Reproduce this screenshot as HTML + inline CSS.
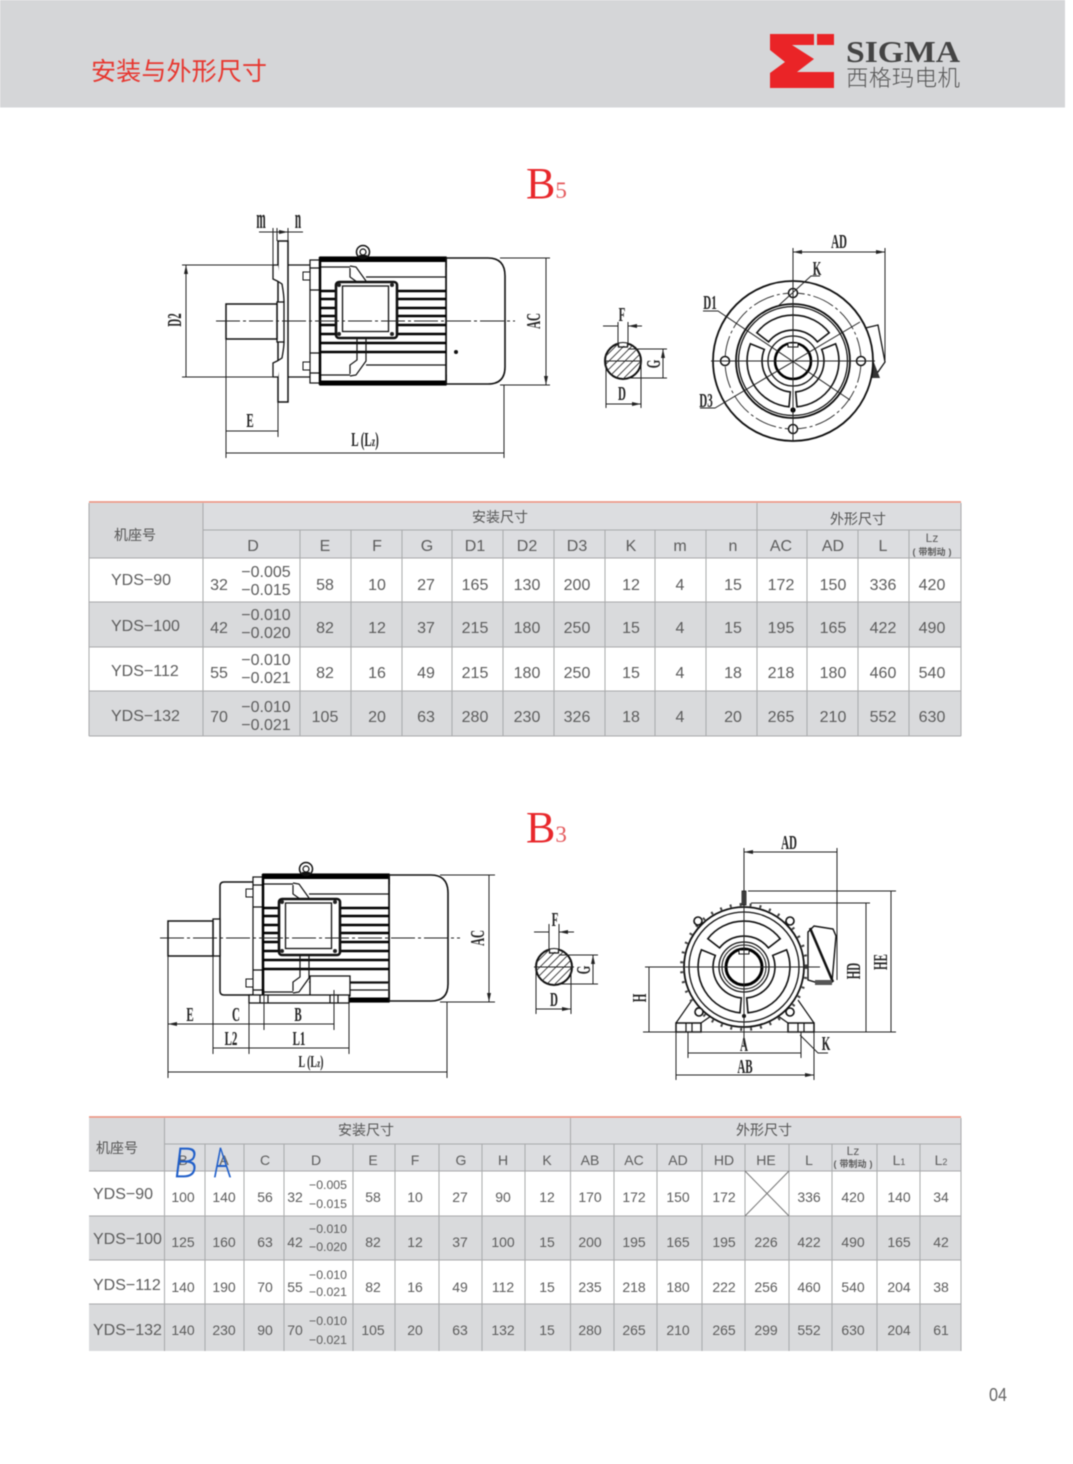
<!DOCTYPE html>
<html><head><meta charset="utf-8"><title>安装与外形尺寸</title>
<style>
html,body{margin:0;padding:0;background:#fff;width:1073px;height:1464px;overflow:hidden}
svg{display:block;filter:blur(.45px)}
text{font-family:"Liberation Sans","Noto Sans CJK SC",sans-serif}
.c{text-anchor:middle;fill:#5c5c5c}
.n{font-size:16px}.s{font-size:14px}.o{font-size:12.3px}
.h{font-size:14px;fill:#555;text-anchor:middle}
.t{font-family:"Liberation Serif",serif;font-weight:bold;font-size:20px;fill:#222;text-anchor:middle}
.d{fill:none;stroke:#222;stroke-width:1}
.dm{fill:none;stroke:#222;stroke-width:1;marker-start:url(#ar);marker-end:url(#ar)}
.l{fill:none;stroke:#111;stroke-width:1.2}
.m{fill:none;stroke:#111;stroke-width:1.8}
.b{stroke:#000;fill:none}
.cl{stroke:#222;stroke-width:.9;stroke-dasharray:24 3 3 3;fill:none}
.g{stroke:#a8a9ab;stroke-width:1;fill:none}
.hw{font-family:"Noto Sans CJK SC",sans-serif;font-weight:100;font-size:40px;fill:#1f5ec9;stroke:#1f5ec9;stroke-width:.7}
</style></head><body>
<svg xmlns="http://www.w3.org/2000/svg" width="1073" height="1464" viewBox="0 0 1073 1464">
<defs>
<marker id="ar" viewBox="0 0 9 4" refX="9" refY="2" markerWidth="9" markerHeight="4" markerUnits="userSpaceOnUse" orient="auto-start-reverse"><path d="M0 0L9 2L0 4Z" fill="#222"/></marker>
<clipPath id="kc"><circle cx="0" cy="0" r="18"/></clipPath>
<g id="key">
<circle r="18" fill="#fff" stroke="#111" stroke-width="2"/>
<g clip-path="url(#kc)" stroke="#333" stroke-width=".9">
<path d="M-24 -6L-6 -24M-24 2L2 -24M-24 10L10 -24M-24 18L18 -24M-24 26L26 -24M-16 26L26 -16M-8 26L26 -8M0 26L26 0M8 26L26 8"/>
<rect x="-4.5" y="-20" width="9" height="5" fill="#fff" stroke="none"/>
</g>
<path d="M-4.5 -18V-14H4.5V-18" class="l"/>
</g>
<g id="pock" class="l" stroke-width="1.5">
<path d="M756.8 332.7A46 46 0 0 1 829.2 332.7L817.4 341.9A31 31 0 0 0 768.6 341.9Z" fill="#fff" stroke="#111" stroke-width="1.6"/>
<path d="M835.6 343.8A46 46 0 0 1 797 406.8L795.7 391.9A31 31 0 0 0 821.7 349.4Z" fill="#fff" stroke="#111" stroke-width="1.6"/>
<path d="M750.4 343.8A46 46 0 0 0 789 406.8L790.3 391.9A31 31 0 0 1 764.3 349.4Z" fill="#fff" stroke="#111" stroke-width="1.6"/>
</g>
<g id="motor">
<path d="M446 258H488Q505 258 505 276V367Q505 384 488 384H446Z" fill="#fff" stroke="#111" stroke-width="1.6"/>
<path d="M442 257H447V268ZM442 385H447V374Z" fill="#111"/>
<rect x="310" y="260" width="10" height="123" fill="#fff" stroke="#111" stroke-width="1.2"/>
<path d="M310 268H320M310 290H320M310 353H320M310 373H320" class="l"/>
<rect x="303" y="272" width="7" height="8" fill="#fff" stroke="#111"/>
<rect x="303" y="362" width="7" height="8" fill="#fff" stroke="#111"/>
<rect x="320" y="257" width="126" height="128" fill="#fff" stroke="#111" stroke-width="1.2"/>
<path d="M320 259.5H446M320 383H446" stroke="#000" stroke-width="5" fill="none"/>
<path d="M320 257V385" stroke="#000" stroke-width="2.5"/>
<path d="M446 258V384" stroke="#111" stroke-width="1.6"/>
<path d="M321 267H350M321 375H350M366 277H446M366 365H446" class="l"/>
<path d="M321 291H446M321 299H446M321 308H446M321 316H446M321 325H446M321 334H446M321 343H446M321 352H446" stroke="#000" stroke-width="2.4" fill="none"/>
<path d="M350 266L356 267L366 281M350 268V277L357 282M350 376L356 375L366 361V338M350 374V365L357 360V338" class="l" stroke-width="1.4"/>
<rect x="336" y="282" width="61" height="56" rx="3" fill="#fff" stroke="#111" stroke-width="2.6"/>
<rect x="342.500" y="286" width="46" height="45.500" fill="#fff" stroke="#111" stroke-width="1.3"/>
<circle cx="339" cy="285" r="2" fill="#222"/><circle cx="392" cy="285" r="2" fill="#222"/><circle cx="339" cy="334" r="2" fill="#222"/><circle cx="392" cy="334" r="2" fill="#222"/>
<circle cx="363" cy="252" r="6.500" fill="#fff" stroke="#111" stroke-width="1.500"/>
<circle cx="363" cy="252" r="3" fill="#fff" stroke="#111" stroke-width="1.200"/>
<rect x="359" y="255" width="8" height="3" fill="#111"/>
</g>
</defs>

<rect x="0" y="0" width="1073" height="1464" fill="#fff"/>
<rect x="0" y="0" width="1065" height="107.500" fill="#d5d6d8"/>
<text x="91" y="80" font-size="25" textLength="176" fill="#e7372f">安装与外形尺寸</text>
<path d="M770 34H814V45H792L814 59L797 72H834V88H770V73L785 62L770 50Z" fill="#ea2427"/>
<rect x="817" y="34" width="17" height="11" fill="#ea2427"/>
<text x="846" y="62" textLength="114" lengthAdjust="spacingAndGlyphs" style="font-family:'Liberation Serif',serif;font-weight:bold;font-size:31px" fill="#444">SIGMA</text>
<text x="846" y="86" textLength="114" style="font-family:'Noto Sans CJK SC',sans-serif;font-weight:300;font-size:22.500px" fill="#555">西格玛电机</text>

<text x="526" y="198" style="font-family:'Liberation Serif',serif;font-size:44px" fill="#e8282c">B<tspan font-size="23" fill="#e4595c">5</tspan></text>
<text x="526" y="842" style="font-family:'Liberation Serif',serif;font-size:44px" fill="#e8282c">B<tspan font-size="23" fill="#e4595c">3</tspan></text>

<!-- B5 side view -->
<path d="M288 265H310M288 377H310" class="l"/>
<rect x="278" y="241" width="10" height="161" fill="#fff" stroke="#111" stroke-width="1.500"/>
<path d="M278 265H273V279Q278 281 282 284Q284 295 284 302M278 377H273V363Q278 361 282 358Q284 347 284 342" fill="#fff" stroke="#111" stroke-width="1.300"/>
<rect x="277" y="302" width="7" height="40" fill="#fff" stroke="#111" stroke-width="1.300"/>
<rect x="226" y="304" width="51" height="35" fill="#fff" stroke="#111" stroke-width="1.500"/>
<use href="#motor"/>
<circle cx="456" cy="352" r="2" fill="#111"/>
<path d="M216 321H515" class="cl"/>
<path d="M182 265H273M182 377H273M273 228V265M277 228V241M288 228V241M226 339V458M278 402V437M504 385V458M500 258H550M500 385H550" class="d"/>
<path d="M186 265V377M226 431H278M226 453H504M546 258V385" class="dm"/>
<path d="M259 232H273M303 232H288M273 232H288" class="d" marker-end="url(#ar)"/>
<text class="t" style="font-size:28px" transform="translate(261 228) scale(.4 1)">m</text>
<text class="t" style="font-size:28px" transform="translate(298 228) scale(.4 1)">n</text>
<text class="t" transform="translate(250 427) scale(.55 1)">E</text>
<text class="t" transform="translate(365 446) scale(.55 1)">L (L<tspan font-size="14">z</tspan>)</text>
<text class="t" transform="translate(181 320) rotate(-90) scale(.55 1)">D2</text>
<text class="t" transform="translate(540 321) rotate(-90) scale(.55 1)">AC</text>

<!-- B5 key section -->
<use href="#key" x="623" y="361"/>
<path d="M604 361H642M618 322V346M628 322V346M628 349H667M628 378H667M606 361V408M641 361V408" class="d"/>
<path d="M603 326H618M642 326H628" class="d" marker-end="url(#ar)"/>
<path d="M663 349V378M606 404H641" class="dm"/>
<text class="t" transform="translate(622 321) scale(.55 1)">F</text>
<text class="t" transform="translate(660 364) rotate(-90) scale(.55 1)">G</text>
<text class="t" transform="translate(622 400) scale(.55 1)">D</text>

<!-- B5 end view -->
<path d="M857 330L878 325L885 362L878 372L866 368Z" fill="#fff" stroke="#111" stroke-width="1.300"/>
<path d="M873 360L880 378L871 378Z" fill="#333"/>
<circle cx="793" cy="361" r="80" fill="#fff" stroke="#111" stroke-width="1.800"/>
<circle cx="793" cy="361" r="68" fill="none" stroke="#222" stroke-width=".9" stroke-dasharray="22 3 3 3"/>
<circle cx="793" cy="361" r="57" fill="#fff" stroke="#111" stroke-width="1.800"/>
<circle cx="793" cy="361" r="54.500" fill="#fff" stroke="#111" stroke-width="1.300"/>
<use href="#pock"/>
<circle cx="793" cy="361" r="25" fill="#fff" stroke="#111" stroke-width="1.300"/>
<circle cx="793" cy="361" r="18" fill="#fff" stroke="#000" stroke-width="2.600"/>
<rect x="788" y="343" width="10" height="4" fill="#fff" stroke="#111"/>
<circle cx="793" cy="410" r="2.600" fill="#000"/>
<circle cx="793" cy="293" r="4.500" fill="#fff" stroke="#111" stroke-width="1.500"/><circle cx="793" cy="429" r="4.500" fill="#fff" stroke="#111" stroke-width="1.500"/><circle cx="725" cy="361" r="4.500" fill="#fff" stroke="#111" stroke-width="1.500"/><circle cx="861" cy="361" r="4.500" fill="#fff" stroke="#111" stroke-width="1.500"/>
<path d="M793 248V441M711 361H875M885 248V360M703 311H718L850 400M700 408H715L860 322M820 276H811L777 307" class="d"/>
<path d="M793 252H885" class="dm"/>
<text class="t" transform="translate(839 248) scale(.55 1)">AD</text>
<text class="t" transform="translate(817 275) scale(.55 1)">K</text>
<text class="t" transform="translate(710 309) scale(.55 1)">D1</text>
<text class="t" transform="translate(706 407) scale(.55 1)">D3</text>

<!-- Table 1 -->
<rect x="89" y="503" width="872" height="55" fill="#dcdde0"/>
<rect x="89" y="503" width="114" height="55" fill="#d7d8da"/>
<rect x="89" y="558" width="872" height="44" fill="#fff"/>
<rect x="89" y="602" width="872" height="45" fill="#d9dadc"/>
<rect x="89" y="647" width="872" height="44" fill="#fff"/>
<rect x="89" y="691" width="872" height="45" fill="#d9dadc"/>
<path d="M89 502H961" stroke="#e88a78" stroke-width="1.500"/>
<path d="M203 530H961M89 558H961M89 602H961M89 647H961M89 691H961M89 736H961M89 503V736M961 503V736" class="g"/>
<path d="M203 503V736M757 503V736M300 530V736M351 530V736M402 530V736M452 530V736M503 530V736M554 530V736M605 530V736M655 530V736M706 530V736M807 530V736M858 530V736M909 530V736" class="g"/>
<text class="h" x="135" y="540">机座号</text>
<text class="h" x="500" y="522">安装尺寸</text>
<text class="h" x="858" y="524">外形尺寸</text>
<text class="c n" y="551"><tspan x="253">D</tspan><tspan x="325">E</tspan><tspan x="377">F</tspan><tspan x="427">G</tspan><tspan x="475">D1</tspan><tspan x="527">D2</tspan><tspan x="577">D3</tspan><tspan x="631">K</tspan><tspan x="680">m</tspan><tspan x="733">n</tspan><tspan x="781">AC</tspan><tspan x="833">AD</tspan><tspan x="883">L</tspan></text>
<text class="c" font-size="12" x="932" y="542">Lz</text>
<text class="c" font-size="9" font-weight="bold" y="555"><tspan x="914">(</tspan><tspan x="932">带制动</tspan><tspan x="950">)</tspan></text>
<text x="111" y="585" fill="#5c5c5c" font-size="16">YDS−90</text>
<text x="111" y="631" fill="#5c5c5c" font-size="16">YDS−100</text>
<text x="111" y="676" fill="#5c5c5c" font-size="16">YDS−112</text>
<text x="111" y="721" fill="#5c5c5c" font-size="16">YDS−132</text>
<text class="c n" y="590"><tspan x="219">32</tspan><tspan x="325">58</tspan><tspan x="377">10</tspan><tspan x="426">27</tspan><tspan x="475">165</tspan><tspan x="527">130</tspan><tspan x="577">200</tspan><tspan x="631">12</tspan><tspan x="680">4</tspan><tspan x="733">15</tspan><tspan x="781">172</tspan><tspan x="833">150</tspan><tspan x="883">336</tspan><tspan x="932">420</tspan></text>
<text class="c n" y="633"><tspan x="219">42</tspan><tspan x="325">82</tspan><tspan x="377">12</tspan><tspan x="426">37</tspan><tspan x="475">215</tspan><tspan x="527">180</tspan><tspan x="577">250</tspan><tspan x="631">15</tspan><tspan x="680">4</tspan><tspan x="733">15</tspan><tspan x="781">195</tspan><tspan x="833">165</tspan><tspan x="883">422</tspan><tspan x="932">490</tspan></text>
<text class="c n" y="678"><tspan x="219">55</tspan><tspan x="325">82</tspan><tspan x="377">16</tspan><tspan x="426">49</tspan><tspan x="475">215</tspan><tspan x="527">180</tspan><tspan x="577">250</tspan><tspan x="631">15</tspan><tspan x="680">4</tspan><tspan x="733">18</tspan><tspan x="781">218</tspan><tspan x="833">180</tspan><tspan x="883">460</tspan><tspan x="932">540</tspan></text>
<text class="c n" y="722"><tspan x="219">70</tspan><tspan x="325">105</tspan><tspan x="377">20</tspan><tspan x="426">63</tspan><tspan x="475">280</tspan><tspan x="527">230</tspan><tspan x="577">326</tspan><tspan x="631">18</tspan><tspan x="680">4</tspan><tspan x="733">20</tspan><tspan x="781">265</tspan><tspan x="833">210</tspan><tspan x="883">552</tspan><tspan x="932">630</tspan></text>
<text class="c n" x="266" y="577">−0.005</text><text class="c n" x="266" y="595">−0.015</text>
<text class="c n" x="266" y="620">−0.010</text><text class="c n" x="266" y="638">−0.020</text>
<text class="c n" x="266" y="665">−0.010</text><text class="c n" x="266" y="683">−0.021</text>
<text class="c n" x="266" y="712">−0.010</text><text class="c n" x="266" y="730">−0.021</text>

<!-- B3 side view -->
<path d="M253 882H224Q220 882 220 886V991Q220 995 224 995H253" fill="#fff" stroke="#111" stroke-width="1.500"/>
<use href="#motor" transform="translate(-57 617)"/>
<rect x="213" y="919" width="7" height="37" fill="#fff" stroke="#111" stroke-width="1.300"/>
<rect x="168" y="921" width="45" height="35" fill="#fff" stroke="#111" stroke-width="1.500"/>
<rect x="310" y="976" width="40" height="20" fill="#fff" stroke="#111" stroke-width="1.300"/>
<path d="M350 983H388M350 990H388" class="l"/>
<rect x="249" y="995" width="100" height="8" fill="#fff" stroke="#111" stroke-width="1.300"/>
<path d="M260 995V1003M268 995V1003M330 995V1003M338 995V1003" class="l"/>
<path d="M160 938H460" class="cl"/>
<path d="M168 956V1078M213 1003V1054M249 1003V1054M264 990V1030M334 990V1030M349 1003V1054M447 1002V1078M440 875H495M440 1002H495M213 956V1003" class="d"/>
<path d="M168 1024H213M213 1024H250M264 1024H334M213 1048H249M249 1048H349M168 1072H447M489 875V1002" class="dm"/>
<path d="M250 1024H264" class="d"/>
<text class="t" transform="translate(190 1021) scale(.55 1)">E</text>
<text class="t" transform="translate(236 1021) scale(.55 1)">C</text>
<text class="t" transform="translate(298 1021) scale(.55 1)">B</text>
<text class="t" transform="translate(231 1045) scale(.55 1)">L2</text>
<text class="t" transform="translate(299 1045) scale(.55 1)">L1</text>
<text class="t" transform="translate(311 1067) scale(.5 .85)">L (L<tspan font-size="14">z</tspan>)</text>
<text class="t" transform="translate(484 938) rotate(-90) scale(.55 1)">AC</text>

<!-- B3 key section -->
<use href="#key" x="554" y="967"/>
<path d="M534 967H574M549 924V950M559 924V950M559 955H598M559 984H598M536 967V1014M571 967V1014" class="d"/>
<path d="M534 932H549M574 932H559" class="d" marker-end="url(#ar)"/>
<path d="M593 955V984M536 1009H571" class="dm"/>
<text class="t" transform="translate(555 926) scale(.55 1)">F</text>
<text class="t" transform="translate(590 970) rotate(-90) scale(.55 1)">G</text>
<text class="t" transform="translate(554 1006) scale(.55 1)">D</text>

<!-- B3 end view -->
<path d="M808 932L814 926L833 929L836 936L832 982L815 982L808 980Z" fill="#fff" stroke="#111" stroke-width="1.400"/>
<path d="M810 928L833 982" stroke="#111" stroke-width="2.500"/>
<path d="M815 980H832V985H815Z" fill="#555"/>
<path d="M676 1023L692 1000M701 1023L711 1016M814 1023L798 1000M788 1023L778 1016" class="l" stroke-width="1.500"/>
<circle cx="744" cy="967" r="62.500" fill="none" stroke="#444" stroke-width="3" stroke-dasharray="2 8"/>
<circle cx="744" cy="967" r="60" fill="#fff" stroke="#111" stroke-width="1.800"/>
<circle cx="744" cy="967" r="55" fill="none" stroke="#111" stroke-width="1.300"/>
<rect x="676" y="1023" width="25" height="9" fill="#fff" stroke="#111" stroke-width="1.500"/>
<rect x="788" y="1023" width="26" height="9" fill="#fff" stroke="#111" stroke-width="1.500"/>
<path d="M686 1023V1032M692 1023V1032M798 1023V1032M804 1023V1032" class="l"/>
<use href="#pock" transform="translate(-49 606)"/>
<circle cx="744" cy="967" r="25" fill="#fff" stroke="#111" stroke-width="1.300"/>
<circle cx="744" cy="967" r="22" fill="none" stroke="#111" stroke-width="1"/>
<circle cx="744" cy="967" r="18" fill="#fff" stroke="#000" stroke-width="3"/>
<rect x="739" y="950" width="10" height="4" fill="#fff" stroke="#111"/>
<circle cx="744" cy="1016" r="2" fill="#111"/>
<circle cx="698" cy="921" r="4" fill="#fff" stroke="#111" stroke-width="1.600"/><circle cx="790" cy="921" r="4" fill="#fff" stroke="#111" stroke-width="1.600"/><circle cx="699" cy="1012" r="4" fill="#fff" stroke="#111" stroke-width="1.600"/><circle cx="790" cy="1012" r="4" fill="#fff" stroke="#111" stroke-width="1.600"/>
<rect x="742" y="891" width="4" height="14" fill="#555" stroke="#111" stroke-width=".8"/>
<path d="M744 848V1045M837 848V980M748 891H896M751 903H870M645 967H820M643 1032H896M688 1032V1058M801 1032V1058M676 1032V1080M814 1032V1080M800 1035L818 1053H828" class="d"/>
<path d="M744 852H837M891 891V1032M866 903V1032M649 967V1032M688 1053H801M676 1075H814" class="dm"/>
<text class="t" transform="translate(789 849) scale(.55 1)">AD</text>
<text class="t" transform="translate(744 1051) scale(.55 1)">A</text>
<text class="t" transform="translate(745 1073) scale(.55 1)">AB</text>
<text class="t" transform="translate(826 1050) scale(.55 1)">K</text>
<text class="t" transform="translate(646 998) rotate(-90) scale(.55 1)">H</text>
<text class="t" transform="translate(860 971) rotate(-90) scale(.55 1)">HD</text>
<text class="t" transform="translate(887 962) rotate(-90) scale(.55 1)">HE</text>

<!-- Table 2 -->
<rect x="89" y="1118" width="872" height="53" fill="#dcdde0"/>
<rect x="89" y="1118" width="76" height="53" fill="#d7d8da"/>
<rect x="89" y="1171" width="872" height="45" fill="#fff"/>
<rect x="89" y="1216" width="872" height="44" fill="#d9dadc"/>
<rect x="89" y="1260" width="872" height="44" fill="#fff"/>
<rect x="89" y="1304" width="872" height="47" fill="#d9dadc"/>
<path d="M89 1117H961" stroke="#e88a78" stroke-width="1.500"/>
<path d="M165 1144H961M89 1171H961M89 1216H961M89 1260H961M89 1304H961M961 1118V1351" class="g"/>
<path d="M164.500 1118V1351M570.500 1118V1351M205 1144V1351M244 1144V1351M284 1144V1351M353 1144V1351M395 1144V1351M439 1144V1351M482 1144V1351M525 1144V1351M614 1144V1351M657 1144V1351M702 1144V1351M745 1144V1351M789 1144V1351M832 1144V1351M877 1144V1351M920 1144V1351" class="g"/>
<text class="h" x="117" y="1153">机座号</text>
<text class="h" x="366" y="1135">安装尺寸</text>
<text class="h" x="764" y="1135">外形尺寸</text>
<text class="c s" y="1165"><tspan x="183">B</tspan><tspan x="224">A</tspan><tspan x="265">C</tspan><tspan x="316">D</tspan><tspan x="373">E</tspan><tspan x="415">F</tspan><tspan x="461">G</tspan><tspan x="503">H</tspan><tspan x="547">K</tspan><tspan x="590">AB</tspan><tspan x="634">AC</tspan><tspan x="678">AD</tspan><tspan x="724">HD</tspan><tspan x="766">HE</tspan><tspan x="809">L</tspan><tspan x="899">L<tspan font-size="9">1</tspan></tspan><tspan x="941">L<tspan font-size="9">2</tspan></tspan></text>
<text class="c" font-size="12" x="853" y="1155">Lz</text>
<text class="c" font-size="9" font-weight="bold" y="1167"><tspan x="835">(</tspan><tspan x="853">带制动</tspan><tspan x="871">)</tspan></text>
<text class="hw" transform="translate(172 1177) skewX(-7)" textLength="24" lengthAdjust="spacingAndGlyphs">B</text>
<text class="hw" transform="translate(214 1177) skewX(4)" textLength="17" lengthAdjust="spacingAndGlyphs">A</text>
<text x="93" y="1199" font-size="16" fill="#5c5c5c">YDS−90</text>
<text x="93" y="1244" font-size="16" fill="#5c5c5c">YDS−100</text>
<text x="93" y="1290" font-size="16" fill="#5c5c5c">YDS−112</text>
<text x="93" y="1335" font-size="16" fill="#5c5c5c">YDS−132</text>
<text class="c s" y="1202"><tspan x="183">100</tspan><tspan x="224">140</tspan><tspan x="265">56</tspan><tspan x="295">32</tspan><tspan x="373">58</tspan><tspan x="415">10</tspan><tspan x="460">27</tspan><tspan x="503">90</tspan><tspan x="547">12</tspan><tspan x="590">170</tspan><tspan x="634">172</tspan><tspan x="678">150</tspan><tspan x="724">172</tspan><tspan x="809">336</tspan><tspan x="853">420</tspan><tspan x="899">140</tspan><tspan x="941">34</tspan></text>
<text class="c s" y="1247"><tspan x="183">125</tspan><tspan x="224">160</tspan><tspan x="265">63</tspan><tspan x="295">42</tspan><tspan x="373">82</tspan><tspan x="415">12</tspan><tspan x="460">37</tspan><tspan x="503">100</tspan><tspan x="547">15</tspan><tspan x="590">200</tspan><tspan x="634">195</tspan><tspan x="678">165</tspan><tspan x="724">195</tspan><tspan x="766">226</tspan><tspan x="809">422</tspan><tspan x="853">490</tspan><tspan x="899">165</tspan><tspan x="941">42</tspan></text>
<text class="c s" y="1292"><tspan x="183">140</tspan><tspan x="224">190</tspan><tspan x="265">70</tspan><tspan x="295">55</tspan><tspan x="373">82</tspan><tspan x="415">16</tspan><tspan x="460">49</tspan><tspan x="503">112</tspan><tspan x="547">15</tspan><tspan x="590">235</tspan><tspan x="634">218</tspan><tspan x="678">180</tspan><tspan x="724">222</tspan><tspan x="766">256</tspan><tspan x="809">460</tspan><tspan x="853">540</tspan><tspan x="899">204</tspan><tspan x="941">38</tspan></text>
<text class="c s" y="1335"><tspan x="183">140</tspan><tspan x="224">230</tspan><tspan x="265">90</tspan><tspan x="295">70</tspan><tspan x="373">105</tspan><tspan x="415">20</tspan><tspan x="460">63</tspan><tspan x="503">132</tspan><tspan x="547">15</tspan><tspan x="590">280</tspan><tspan x="634">265</tspan><tspan x="678">210</tspan><tspan x="724">265</tspan><tspan x="766">299</tspan><tspan x="809">552</tspan><tspan x="853">630</tspan><tspan x="899">204</tspan><tspan x="941">61</tspan></text>
<text class="c o" x="328" y="1189">−0.005</text><text class="c o" x="328" y="1208">−0.015</text>
<text class="c o" x="328" y="1233">−0.010</text><text class="c o" x="328" y="1251">−0.020</text>
<text class="c o" x="328" y="1279">−0.010</text><text class="c o" x="328" y="1296">−0.021</text>
<text class="c o" x="328" y="1325">−0.010</text><text class="c o" x="328" y="1344">−0.021</text>
<path d="M745 1216L789 1171M745 1171L789 1216" stroke="#777" stroke-width="1"/>

<text x="989" y="1401" textLength="18" lengthAdjust="spacingAndGlyphs" font-size="18" fill="#666">04</text>
</svg>
</body></html>
